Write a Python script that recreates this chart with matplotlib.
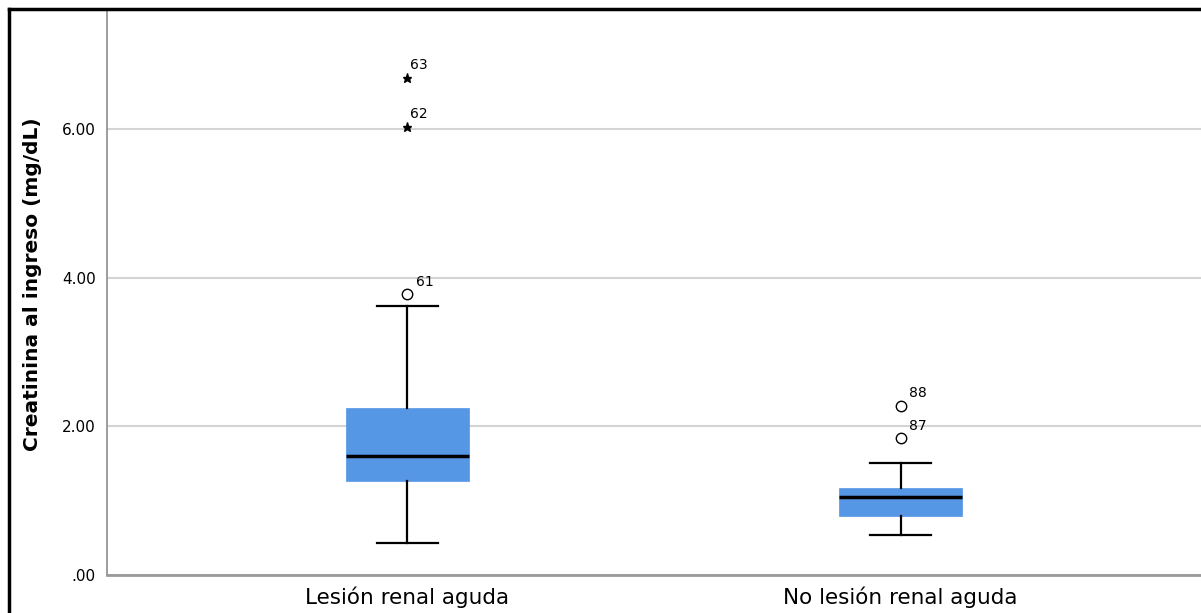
import matplotlib.pyplot as plt
from matplotlib.lines import Line2D

plt.rcParams['font.family'] = ['DejaVu Sans']

# Resumen de cada grupo (valores en mg/dL)
grupos = ['Lesión renal aguda', 'No lesión renal aguda']
q1 = [1.26, 0.80]
mediana = [1.60, 1.05]
q3 = [2.25, 1.17]
bigote_inf = [0.43, 0.54]
bigote_sup = [3.62, 1.51]

# Casos atípicos (círculo) y extremos (estrella), con su número de caso
atipicos_val = [[3.78], [1.84, 2.28]]
atipicos_id = [['61'], ['87', '88']]
extremos_val = [[6.03, 6.69], []]
extremos_id = [['62', '63'], []]

color_caja = '#5596e5'

fig = plt.figure(figsize=(12.01, 6.13), dpi=100)
ax = fig.add_axes([107 / 1201, 38 / 613, 1 - 107 / 1201, 565 / 613])

stats = []
for i in range(len(grupos)):
    stats.append({'label': grupos[i], 'q1': q1[i], 'med': mediana[i], 'q3': q3[i],
                  'whislo': bigote_inf[i], 'whishi': bigote_sup[i], 'fliers': []})

ax.bxp(stats, positions=[1, 2], widths=0.25, patch_artist=True, showfliers=False,
       boxprops=dict(facecolor=color_caja, edgecolor=color_caja, linewidth=0.5),
       medianprops=dict(color='black', linewidth=2.5),
       whiskerprops=dict(color='black', linewidth=1.6),
       capprops=dict(color='black', linewidth=1.6),
       capwidths=0.125, zorder=3)

for i in range(len(grupos)):
    x = i + 1
    for v, n in zip(atipicos_val[i], atipicos_id[i]):
        ax.plot(x, v, 'o', ms=7.5, mfc='white', mec='black', mew=1.0, zorder=4)
        ax.annotate(n, (x, v), xytext=(6, 6), textcoords='offset points',
                    fontsize=10)
    for v, n in zip(extremos_val[i], extremos_id[i]):
        ax.plot(x, v, '*', ms=6.5, color='black', zorder=4)
        ax.annotate(n, (x, v), xytext=(2, 6), textcoords='offset points',
                    fontsize=10)

ax.set_xlim(0.391, 2.609)
ax.set_ylim(0, 7.6)
ax.set_yticks([0, 2, 4, 6])
ax.set_yticklabels(['.00', '2.00', '4.00', '6.00'], fontsize=11)
ax.set_xticks([1, 2])
ax.set_xticklabels(grupos, fontsize=15.5)
ax.tick_params(axis='y', length=0, pad=8)
ax.tick_params(axis='x', length=0, pad=8)
ax.grid(axis='y', color='#d4d4d4', linewidth=1.5, zorder=0)
ax.set_axisbelow(True)

for lado in ['top', 'right']:
    ax.spines[lado].set_visible(False)
ax.spines['left'].set_color('#8c8c8c')
ax.spines['bottom'].set_color('#9a9a9a')
ax.spines['bottom'].set_linewidth(2)
ax.spines['left'].set_linewidth(1.2)

ax.set_ylabel('Creatinina al ingreso (mg/dL)', fontsize=14.5, fontweight='bold')
ax.yaxis.set_label_coords(-0.059, 0.515)

# Marco negro del recorte (izquierda y arriba)
fig.add_artist(Line2D([9 / 1201, 9 / 1201], [0, 1 - 9 / 613], color='black',
                      linewidth=2.5, transform=fig.transFigure))
fig.add_artist(Line2D([9 / 1201, 1], [1 - 9 / 613, 1 - 9 / 613], color='black',
                      linewidth=2.5, transform=fig.transFigure))

fig.savefig('out.png', dpi=100)
